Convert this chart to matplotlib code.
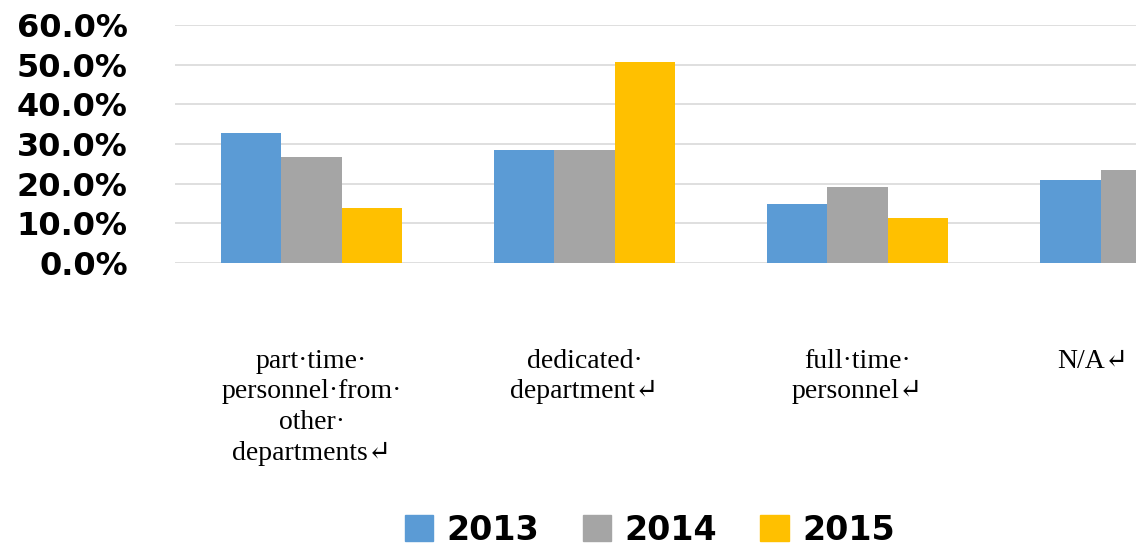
import matplotlib
matplotlib.use("Agg")
import matplotlib.pyplot as plt
import numpy as np
from matplotlib.patches import Patch

categories = ["part\u00b7time\u00b7\npersonnel\u00b7from\u00b7\nother\u00b7\ndepartments\u21b5",
              "dedicated\u00b7\ndepartment\u21b5",
              "full\u00b7time\u00b7\npersonnel\u21b5",
              "N/A\u21b5"]
years = ["2013", "2014", "2015"]
v2013 = [0.327, 0.285, 0.149, 0.209]
v2014 = [0.267, 0.285, 0.191, 0.234]
v2015 = [0.139, 0.506, 0.113, 0.240]
colors = ["#5B9BD5", "#A5A5A5", "#FFC000"]

fig = plt.figure(figsize=(11.36, 5.47), dpi=100)
ax = fig.add_axes([175 / 1136, 284 / 547, 1 - 175 / 1136, 238 / 547])

x = np.arange(len(categories))
w = 0.22
for i, (vals, c) in enumerate(zip([v2013, v2014, v2015], colors)):
    ax.bar(x + (i - 1) * w, vals, width=w, color=c, zorder=3)

ax.set_ylim(0, 0.6)
ax.set_xlim(-0.5, 3.02)
ax.set_yticks(np.arange(0, 0.61, 0.1))
ax.set_yticklabels(["%.1f%%" % (v * 100) for v in np.arange(0, 0.61, 0.1)],
                   fontsize=23, fontweight="bold", family="DejaVu Sans")
ax.tick_params(axis="y", length=0, pad=34)
ax.grid(axis="y", color="#D9D9D9", linewidth=1.2, zorder=0)
for s in ax.spines.values():
    s.set_visible(False)

# category labels sit below the axis, like a pasted text box
label_x = [0, 1, 2, 2.86]
ax.set_xticks([])
for lx, lab in zip(label_x, categories):
    ax.text(lx, -0.36, lab, transform=ax.get_xaxis_transform(), ha="center", va="top",
            fontsize=20, family=["Liberation Serif", "DejaVu Serif"], linespacing=1.3,
            multialignment="center")

handles = [Patch(color=c, label=y) for c, y in zip(colors, years)]
fig.legend(handles=handles, loc="center", bbox_to_anchor=(650 / 1136, 1 - 530 / 547), ncol=3,
           frameon=False, prop={"size": 24, "weight": "bold", "family": "DejaVu Sans"},
           handlelength=0.85, handleheight=0.85, handletextpad=0.4, columnspacing=1.3,
           borderpad=0.1)

fig.savefig("out.png", dpi=100)
